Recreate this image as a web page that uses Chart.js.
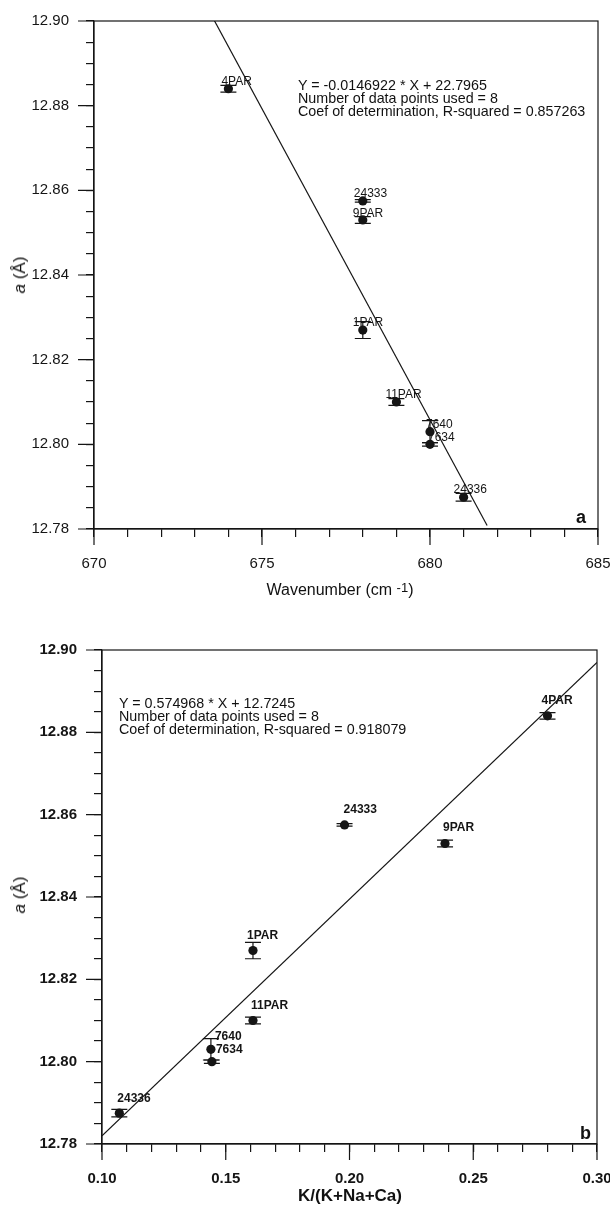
<!DOCTYPE html>
<html>
<head>
<meta charset="utf-8">
<script src="https://cdn.jsdelivr.net/npm/chart.js@4.4.1/dist/chart.umd.min.js"></script>
<style>
html,body{margin:0;padding:0;background:#fff;}
body{width:610px;height:1207px;position:relative;overflow:hidden;font-family:"Liberation Sans",Arial,sans-serif;color:#111;}
.panel{position:absolute;left:0;width:610px;}
.panel canvas{display:block;}
.txt{position:absolute;white-space:nowrap;color:#111;}
.ytitle{position:absolute;transform:translate(-50%,-50%) rotate(-90deg);font-size:17px;white-space:nowrap;color:#111;}
.eq{font-size:14.3px;line-height:13px;}
.letter{font-weight:bold;font-size:18px;}
</style>
</head>
<body>
<div class="panel" id="p1" style="top:0;height:600px;"><canvas id="c1" width="610" height="600"></canvas></div>
<div class="panel" id="p2" style="top:600px;height:607px;"><canvas id="c2" width="610" height="607"></canvas></div>

<!-- panel a texts -->
<div class="ytitle" style="left:20px;top:275px;"><i>a</i> (Å)</div>
<div class="txt eq" style="left:298px;top:79px;">Y = -0.0146922 * X + 22.7965<br>Number of data points used = 8<br>Coef of determination, R-squared = 0.857263</div>
<div class="txt letter" style="left:576px;top:507px;">a</div>
<div class="txt" style="left:340px;top:590px;transform:translate(-50%,-50%);font-size:16px;">Wavenumber (cm <span style="font-size:13px;position:relative;top:-3px;">-1</span>)</div>

<!-- panel b texts -->
<div class="ytitle" style="left:20px;top:895px;"><i>a</i> (Å)</div>
<div class="txt eq" style="left:119px;top:697px;">Y = 0.574968 * X + 12.7245<br>Number of data points used = 8<br>Coef of determination, R-squared = 0.918079</div>
<div class="txt letter" style="left:580px;top:1123px;">b</div>
<div class="txt" style="left:350px;top:1196px;transform:translate(-50%,-50%);font-size:17px;font-weight:bold;">K/(K+Na+Ca)</div>

<script>
// ---------------- data ----------------
const sampleNames   = ['4PAR', '24333', '9PAR', '1PAR', '11PAR', '7640', '7634', '24336'];
const cellParamA    = [12.884, 12.8575, 12.853, 12.827, 12.810, 12.803, 12.800, 12.7875];
const cellParamErr  = [0.0008, 0.0003, 0.0008, 0.002, 0.0008, 0.0026, 0.0004, 0.0009];
const wavenumber    = [674, 678, 678, 678, 679, 680, 680, 681];
const kFraction     = [0.280, 0.198, 0.2386, 0.161, 0.161, 0.144, 0.1444, 0.107];

const yMajorTicks   = [12.78, 12.80, 12.82, 12.84, 12.86, 12.88, 12.90];
const xMajorTicksA  = [670, 675, 680, 685];
const xMajorTicksB  = [0.10, 0.15, 0.20, 0.25, 0.30];

const fitA = { slope: -0.0146922, intercept: 22.7965 };
const fitAxRange = [673.5, 681.7];
const fitB = { slope: 0.574968, intercept: 12.7245 };
const fitBxRange = [0.10, 0.30];

// ---------------- styles ----------------
const INK = '#151515';
const labelOffsetsA = [[-7,-4],[-9,-4],[-10,-3],[-10,-4],[-11,-4],[-4,-4],[-2,-3],[-10,-4]];
const labelOffsetsB = [[-6,-12],[-1,-12],[-2,-12],[-6,-12],[-2,-12],[4,-9],[4,-9],[-2,-11]];

const decor = {
  id: 'decor',
  beforeDatasetsDraw(chart, args, o) {
    const ctx = chart.ctx, xs = chart.scales.x, ys = chart.scales.y;
    ctx.save();
    ctx.strokeStyle = INK; ctx.lineWidth = 1.2;
    o.xv.forEach((xv, i) => {
      const px = xs.getPixelForValue(xv);
      const y1 = ys.getPixelForValue(cellParamA[i] - cellParamErr[i]);
      const y2 = ys.getPixelForValue(cellParamA[i] + cellParamErr[i]);
      ctx.beginPath();
      ctx.moveTo(px, y1); ctx.lineTo(px, y2);
      ctx.moveTo(px - 8, y1); ctx.lineTo(px + 8, y1);
      ctx.moveTo(px - 8, y2); ctx.lineTo(px + 8, y2);
      ctx.stroke();
    });
    ctx.restore();
  },
  afterDraw(chart, args, o) {
    const ctx = chart.ctx, xs = chart.scales.x, ys = chart.scales.y, ca = chart.chartArea;
    ctx.save();
    ctx.strokeStyle = INK; ctx.lineWidth = 1.2;
    ctx.strokeRect(ca.left, ca.top, ca.right - ca.left, ca.bottom - ca.top);
    ctx.beginPath();
    o.xMajor.forEach(v => { const p = xs.getPixelForValue(v); ctx.moveTo(p, ca.bottom); ctx.lineTo(p, ca.bottom + 16); });
    yMajorTicks.forEach(v => { const p = ys.getPixelForValue(v); ctx.moveTo(ca.left, p); ctx.lineTo(ca.left - 16, p); });
    ctx.stroke();
    ctx.fillStyle = INK;
    ctx.font = o.labelFont;
    ctx.textBaseline = 'alphabetic';
    ctx.textAlign = 'left';
    o.xv.forEach((xv, i) => {
      const px = xs.getPixelForValue(xv), py = ys.getPixelForValue(cellParamA[i]);
      const off = o.offsets[i];
      ctx.fillText(sampleNames[i], px + off[0], py + off[1]);
    });
    ctx.restore();
  }
};

function zeroPad(s) { s.paddingTop = 0; s.paddingBottom = 0; s.paddingLeft = 0; s.paddingRight = 0; }

function makeChart(id, cfg) {
  const pts = cfg.xv.map((x, i) => ({ x: x, y: cellParamA[i] }));
  const fitPts = cfg.fitRange.map(x => ({ x: x, y: cfg.fit.intercept + cfg.fit.slope * x }));
  const tickFont = { family: '"Liberation Sans", Arial, sans-serif', size: 15, weight: cfg.bold ? 'bold' : 'normal' };
  return new Chart(document.getElementById(id), {
    type: 'scatter',
    data: {
      datasets: [
        { data: fitPts, showLine: true, borderColor: INK, borderWidth: 1.2, pointRadius: 0, order: 2 },
        { data: pts, pointRadius: 4.6, pointBackgroundColor: INK, pointBorderColor: INK, pointBorderWidth: 0, order: 1 }
      ]
    },
    plugins: [decor],
    options: {
      responsive: false, animation: false, events: [],
      layout: { padding: { top: cfg.top, right: cfg.right, left: 0, bottom: 0 } },
      plugins: {
        legend: { display: false }, tooltip: { enabled: false },
        decor: { xv: cfg.xv, xMajor: cfg.xMajor, offsets: cfg.offsets, labelFont: cfg.labelFont }
      },
      scales: {
        x: {
          type: 'linear', min: cfg.xMin, max: cfg.xMax,
          border: { display: true, color: INK, width: 1.2 },
          grid: { drawOnChartArea: false, drawTicks: true, tickLength: 8, color: INK, lineWidth: 1.2 },
          ticks: {
            stepSize: cfg.xStep, autoSkip: false, maxRotation: 0, padding: 18, color: INK, font: tickFont,
            callback: v => cfg.xMajor.some(m => Math.abs(m - v) < cfg.xStep / 100) ? cfg.fmtX(v) : ''
          },
          afterFit: s => { s.height = cfg.xAxisH; zeroPad(s); }
        },
        y: {
          type: 'linear', min: 12.78, max: 12.90,
          border: { display: true, color: INK, width: 1.2 },
          grid: { drawOnChartArea: false, drawTicks: true, tickLength: 8, color: INK, lineWidth: 1.2 },
          ticks: {
            stepSize: 0.005, autoSkip: false, padding: 17, color: INK, font: tickFont,
            callback: v => yMajorTicks.some(m => Math.abs(m - v) < 0.0001) ? v.toFixed(2) : ''
          },
          afterFit: s => { s.width = cfg.yAxisW; zeroPad(s); }
        }
      }
    }
  });
}

makeChart('c1', {
  xv: wavenumber, xMin: 670, xMax: 685, xStep: 1, xMajor: xMajorTicksA, fmtX: v => String(Math.round(v)),
  fit: fitA, fitRange: fitAxRange, offsets: labelOffsetsA,
  labelFont: '12px "Liberation Sans", Arial, sans-serif',
  top: 21, right: 12, xAxisH: 71, yAxisW: 94, bold: false
});
makeChart('c2', {
  xv: kFraction, xMin: 0.10, xMax: 0.30, xStep: 0.01, xMajor: xMajorTicksB, fmtX: v => v.toFixed(2),
  fit: fitB, fitRange: fitBxRange, offsets: labelOffsetsB,
  labelFont: 'bold 12px "Liberation Sans", Arial, sans-serif',
  top: 50, right: 13, xAxisH: 63, yAxisW: 102, bold: true
});
</script>
</body>
</html>
